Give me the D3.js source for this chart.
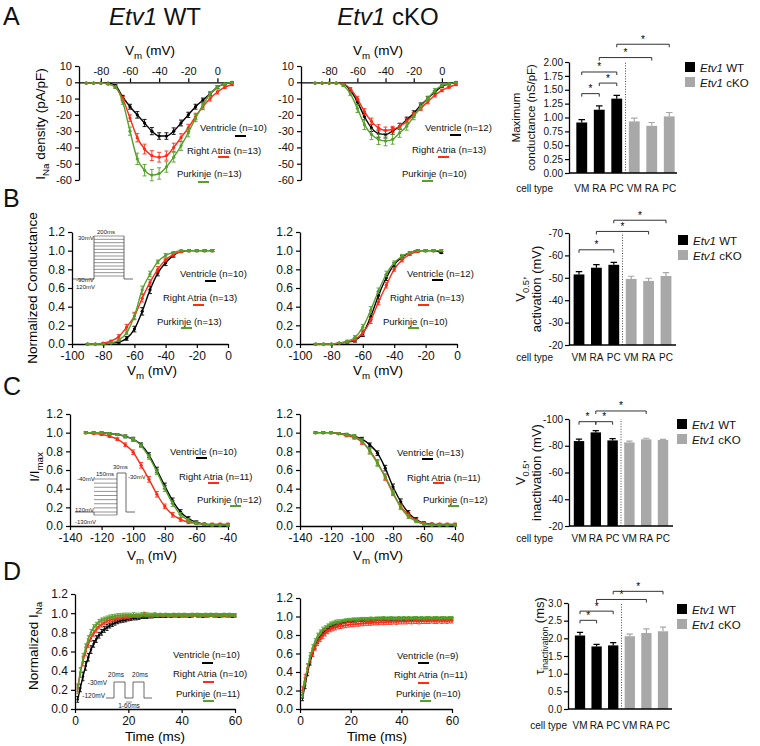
<!DOCTYPE html>
<html>
<head>
<meta charset="utf-8">
<title>Etv1 sodium current figure</title>
<script src="https://cdn.jsdelivr.net/npm/d3@7"></script>
<style>
  body { margin: 0; background: #fff; }
  svg { font-family: "Liberation Sans", Arial, Helvetica, sans-serif; display: block; }
</style>
</head>
<body>
<svg id="fig" width="760" height="746"></svg>
<script>
// ---------- values ----------
const cellTypes = ["VM", "RA", "PC", "VM", "RA", "PC"];

// A: I-V, current density (pA/pF)
const ivVoltage = [-90,-85,-80,-75,-70,-65,-60,-55,-50,-45,-40,-35,-30,-25,-20,-15,-10,-5,0,5,10];
const ivWtVent    = [-0.5,-0.5,-0.5,-0.5,-2,-9,-15,-20,-25,-30,-33,-33,-30,-25,-20,-15,-11,-7,-3,-1,0];
const ivWtVentErr = [0.2,0.2,0.2,0.3,0.5,1,1.5,2,2.2,2.2,2,2,2,1.8,1.6,1.5,1.3,1,0.8,0.5,0.3];
const ivWtRA      = [-0.5,-0.5,-0.5,-1,-3,-10,-22,-34,-41,-45,-46,-45,-40,-34,-28,-21,-15,-10,-6,-3,-1.5];
const ivWtRAErr   = [0.2,0.2,0.3,0.4,0.6,1.2,2,2.6,3,3,3,2.8,2.6,2.4,2.2,2,1.8,1.5,1.2,0.8,0.5];
const ivWtPC      = [-0.5,-0.5,-0.5,-1,-3,-12,-30,-47,-54,-57,-56,-52,-46,-39,-31,-22,-14,-7,-3,-1,0];
const ivWtPCErr   = [0.2,0.2,0.3,0.5,0.8,1.5,2.5,3.5,3.5,3.5,3.5,3.2,3,2.8,2.5,2.2,1.8,1.4,1,0.6,0.3];
const ivKoVent    = [-0.5,-0.5,-0.5,-0.5,-1,-5,-12,-21,-28,-31.5,-32,-30,-27,-23,-19,-14,-10,-6,-2.5,-1,0];
const ivKoVentErr = [0.2,0.2,0.2,0.3,0.4,0.8,1.5,2,2.2,2.2,2.2,2,1.8,1.6,1.5,1.3,1.1,0.9,0.7,0.5,0.3];
const ivKoRA      = [-0.5,-0.5,-0.5,-0.5,-1,-4,-10,-18,-24,-28,-29.5,-29,-27,-24,-20,-16,-12,-8,-5,-3,-1.5];
const ivKoRAErr   = [0.2,0.2,0.2,0.3,0.4,0.8,1.4,1.8,2,2,2,1.9,1.8,1.6,1.5,1.4,1.2,1,0.8,0.6,0.4];
const ivKoPC      = [-0.5,-0.5,-0.5,-0.5,-2,-7,-16,-26,-32,-35,-36,-35,-31,-27,-21,-15,-10,-5,-2,-1,0];
const ivKoPCErr   = [0.2,0.2,0.2,0.3,0.6,1.2,2.5,3,3.2,3.2,3,3,2.8,2.4,2,1.8,1.5,1.2,0.9,0.6,0.3];

// B: conductance-voltage
const gvVoltage = [-90,-85,-80,-75,-70,-65,-60,-55,-50,-45,-40,-35,-30,-25,-20,-15,-10];
const gvWtVent    = [0,0,0,0.01,0.02,0.06,0.16,0.35,0.58,0.76,0.87,0.95,0.99,1.0,1.0,1.0,1.0];
const gvWtVentErr = [0,0,0,0.005,0.01,0.02,0.03,0.04,0.04,0.03,0.03,0.02,0.01,0.01,0.01,0.01,0.01];
const gvWtRA      = [0,0,0.01,0.03,0.08,0.18,0.3,0.49,0.66,0.8,0.9,0.96,0.99,1.0,1.0,1.0,1.0];
const gvWtRAErr   = [0,0,0.005,0.01,0.02,0.03,0.04,0.04,0.03,0.03,0.02,0.02,0.01,0.01,0.01,0.01,0.01];
const gvWtPC      = [0,0,0,0.01,0.04,0.12,0.3,0.58,0.75,0.88,0.95,0.98,1.0,1.0,1.0,1.0,1.0];
const gvWtPCErr   = [0,0,0,0.005,0.01,0.02,0.03,0.04,0.03,0.02,0.02,0.01,0.01,0.01,0.01,0.01,0.01];
const gvKoVent    = [0,0,0,0.01,0.02,0.04,0.11,0.29,0.52,0.71,0.85,0.93,0.98,1.0,1.0,1.0,0.98];
const gvKoVentErr = [0,0,0,0.005,0.01,0.02,0.03,0.03,0.04,0.03,0.02,0.02,0.01,0.01,0.01,0.01,0.01];
const gvKoRA      = [0,0,0,0.01,0.02,0.05,0.12,0.25,0.45,0.63,0.8,0.9,0.96,0.99,1.0,1.0,1.0];
const gvKoRAErr   = [0,0,0,0.005,0.01,0.02,0.03,0.03,0.03,0.03,0.02,0.02,0.01,0.01,0.01,0.01,0.01];
const gvKoPC      = [0,0,0,0.01,0.03,0.07,0.18,0.36,0.57,0.75,0.87,0.94,0.98,1.0,1.0,1.0,1.0];
const gvKoPCErr   = [0,0,0,0.005,0.01,0.02,0.03,0.04,0.03,0.03,0.02,0.02,0.01,0.01,0.01,0.01,0.01];

// C: steady-state inactivation
const ssiVoltage = [-130,-125,-120,-115,-110,-105,-100,-95,-90,-85,-80,-75,-70,-65,-60,-55,-50,-45,-40];
const ssiWtVent = [1.0,1.0,1.0,0.99,0.98,0.96,0.93,0.87,0.76,0.6,0.43,0.27,0.15,0.08,0.04,0.02,0.01,0.01,0.01];
const ssiWtRA   = [1.0,0.99,0.98,0.96,0.93,0.87,0.79,0.65,0.5,0.34,0.21,0.12,0.07,0.04,0.03,0.02,0.02,0.02,0.02];
const ssiWtPC   = [1.0,1.0,1.0,0.99,0.98,0.96,0.93,0.86,0.74,0.58,0.4,0.24,0.12,0.06,0.03,0.02,0.01,0.01,0.01];
const ssiKoVent = [1.0,1.0,1.0,0.99,0.98,0.96,0.93,0.87,0.78,0.62,0.42,0.26,0.14,0.07,0.03,0.02,0.01,0.01,0.01];
const ssiKoRA   = [1.0,1.0,1.0,0.99,0.97,0.95,0.9,0.81,0.68,0.52,0.35,0.21,0.12,0.06,0.03,0.02,0.02,0.02,0.02];
const ssiKoPC   = [1.0,1.0,1.0,0.99,0.98,0.96,0.91,0.8,0.67,0.53,0.36,0.2,0.1,0.05,0.02,0.01,0.01,0.01,0.01];
const ssiErrA   = [0.01,0.01,0.01,0.01,0.01,0.015,0.02,0.02,0.025,0.03,0.03,0.03,0.025,0.02,0.015,0.01,0.01,0.01,0.01];
const ssiErrB   = [0.005,0.005,0.01,0.01,0.015,0.02,0.025,0.03,0.03,0.03,0.025,0.025,0.02,0.015,0.01,0.01,0.01,0.01,0.01];

// D: recovery from inactivation (interval, ms)
const recTime = [1,2,3,4,5,6,7,8,9,10,11,12,13,14,15,16,17,18,19,20,
  21,22,23,24,25,26,27,28,29,30,31,32,33,34,35,36,37,38,39,40,
  41,42,43,44,45,46,47,48,49,50,51,52,53,54,55,56,57,58,59,60];
const recWtVent = [0.10,0.22,0.34,0.45,0.54,0.62,0.68,0.73,0.77,0.80,0.83,0.85,0.87,0.885,0.90,0.91,0.92,0.925,0.93,0.94,
  0.945,0.95,0.95,0.955,0.96,0.96,0.96,0.965,0.965,0.97,0.97,0.97,0.97,0.97,0.975,0.97,0.975,0.975,0.97,0.975,
  0.975,0.975,0.97,0.975,0.98,0.975,0.975,0.97,0.975,0.975,0.98,0.975,0.975,0.97,0.975,0.98,0.975,0.975,0.97,0.975];
const recWtVentErr = [0.03,0.04,0.045,0.045,0.04,0.04,0.035,0.035,0.03,0.03,0.03,0.03,0.025,0.025,0.025,0.02,0.02,0.02,0.02,0.02,
  0.02,0.02,0.02,0.02,0.015,0.015,0.015,0.015,0.015,0.015,0.015,0.015,0.015,0.015,0.015,0.015,0.015,0.015,0.015,0.015,
  0.015,0.015,0.015,0.015,0.015,0.015,0.015,0.015,0.015,0.015,0.015,0.015,0.015,0.015,0.015,0.015,0.015,0.015,0.015,0.015];
const recWtRA = [0.22,0.38,0.50,0.60,0.68,0.74,0.79,0.83,0.86,0.88,0.90,0.915,0.925,0.935,0.94,0.95,0.955,0.96,0.96,0.965,
  0.965,0.97,0.97,0.97,0.975,0.995,0.975,0.975,0.975,0.98,0.975,0.98,0.975,0.98,0.98,0.975,0.98,0.98,0.975,0.98,
  0.98,0.975,0.98,0.98,0.98,0.975,0.98,0.98,0.975,0.98,0.98,0.98,0.975,0.98,0.98,0.975,0.98,0.98,0.98,0.975];
const recWtRAErr = [0.04,0.05,0.05,0.045,0.04,0.035,0.03,0.03,0.025,0.025,0.02,0.02,0.02,0.02,0.02,0.02,0.02,0.02,0.02,0.02,
  0.015,0.015,0.015,0.015,0.015,0.015,0.015,0.015,0.015,0.015,0.015,0.015,0.015,0.015,0.015,0.015,0.015,0.015,0.015,0.015,
  0.015,0.015,0.015,0.015,0.015,0.015,0.015,0.015,0.015,0.015,0.015,0.015,0.015,0.015,0.015,0.015,0.015,0.015,0.015,0.015];
const recWtPC = [0.20,0.38,0.53,0.64,0.73,0.80,0.85,0.88,0.91,0.93,0.94,0.95,0.96,0.965,0.97,0.975,0.975,0.98,0.98,0.98,
  0.98,0.985,0.98,0.98,0.985,0.98,0.985,0.98,0.98,0.985,0.98,0.985,0.98,0.985,0.98,0.98,0.985,0.98,0.985,0.98,
  0.985,0.98,0.98,0.985,0.98,0.985,0.98,0.98,0.985,0.98,0.985,0.98,0.985,0.98,0.98,0.985,0.98,0.985,0.98,0.98];
const recWtPCErr = [0.04,0.05,0.05,0.04,0.035,0.03,0.03,0.025,0.025,0.02,0.02,0.02,0.02,0.02,0.02,0.02,0.02,0.02,0.02,0.02,
  0.02,0.02,0.02,0.02,0.02,0.02,0.02,0.02,0.02,0.02,0.015,0.015,0.015,0.015,0.015,0.015,0.015,0.015,0.015,0.015,
  0.015,0.015,0.015,0.015,0.015,0.015,0.015,0.015,0.015,0.015,0.015,0.015,0.015,0.015,0.015,0.015,0.015,0.015,0.015,0.015];
const recKoVent = [0.12,0.26,0.40,0.51,0.60,0.68,0.74,0.78,0.82,0.85,0.87,0.89,0.90,0.915,0.925,0.93,0.94,0.945,0.95,0.95,
  0.955,0.955,0.96,0.96,0.96,0.965,0.965,0.965,0.965,0.97,0.97,0.975,0.97,0.97,0.975,0.97,0.975,0.97,0.975,0.975,
  0.97,0.975,0.975,0.97,0.975,0.975,0.975,0.97,0.975,0.975,0.975,0.97,0.975,0.975,0.975,0.975,0.97,0.975,0.975,0.975];
const recKoVentErr = [0.03,0.04,0.04,0.035,0.03,0.03,0.03,0.025,0.025,0.02,0.02,0.02,0.02,0.02,0.02,0.015,0.015,0.015,0.015,0.015,
  0.015,0.015,0.015,0.015,0.015,0.015,0.015,0.015,0.015,0.015,0.015,0.015,0.015,0.015,0.015,0.015,0.015,0.015,0.015,0.015,
  0.015,0.015,0.015,0.015,0.015,0.015,0.015,0.015,0.015,0.015,0.015,0.015,0.015,0.015,0.015,0.015,0.015,0.015,0.015,0.015];
const recKoRA = [0.20,0.33,0.44,0.54,0.61,0.67,0.72,0.76,0.79,0.82,0.84,0.86,0.87,0.88,0.89,0.895,0.90,0.905,0.91,0.915,
  0.915,0.92,0.92,0.925,0.925,0.93,0.93,0.93,0.935,0.935,0.935,0.94,0.935,0.94,0.94,0.94,0.945,0.94,0.945,0.945,
  0.945,0.945,0.95,0.945,0.95,0.95,0.945,0.95,0.95,0.95,0.95,0.955,0.95,0.95,0.955,0.95,0.955,0.95,0.955,0.955];
const recKoRAErr = [0.04,0.045,0.045,0.04,0.04,0.035,0.035,0.03,0.03,0.03,0.025,0.025,0.025,0.025,0.025,0.025,0.025,0.025,0.025,0.025,
  0.025,0.025,0.025,0.025,0.025,0.025,0.025,0.025,0.025,0.025,0.025,0.025,0.025,0.025,0.025,0.025,0.025,0.025,0.025,0.025,
  0.025,0.025,0.025,0.025,0.025,0.025,0.025,0.025,0.025,0.025,0.025,0.025,0.025,0.025,0.025,0.025,0.025,0.025,0.025,0.025];
const recKoPC = [0.15,0.30,0.45,0.57,0.66,0.73,0.79,0.83,0.86,0.88,0.90,0.92,0.93,0.94,0.945,0.95,0.955,0.96,0.965,0.965,
  0.97,0.97,0.97,0.975,0.975,0.975,0.975,0.98,0.975,0.98,0.98,0.98,0.985,0.98,0.98,0.985,0.98,0.98,0.985,0.98,
  0.985,0.98,0.985,0.98,0.985,0.985,0.98,0.985,0.98,0.985,0.985,0.98,0.985,0.985,0.98,0.985,0.985,0.98,0.985,0.985];
const recKoPCErr = [0.03,0.04,0.04,0.04,0.035,0.03,0.03,0.025,0.025,0.02,0.02,0.02,0.02,0.02,0.02,0.015,0.015,0.015,0.015,0.015,
  0.015,0.015,0.015,0.015,0.015,0.015,0.015,0.015,0.015,0.015,0.015,0.015,0.015,0.015,0.015,0.015,0.015,0.015,0.015,0.015,
  0.015,0.015,0.015,0.015,0.015,0.015,0.015,0.015,0.015,0.015,0.015,0.015,0.015,0.015,0.015,0.015,0.015,0.015,0.015,0.015];

// summary bars (WT VM RA PC, cKO VM RA PC)
const gMax = [0.91, 1.14, 1.34, 0.93, 0.85, 1.02];
const gMaxErr = [0.05, 0.07, 0.06, 0.06, 0.06, 0.07];
const gMaxSig = [[0, 1, 1.43], [1, 2, 1.62], [0, 2, 1.82], [1, 4, 2.08], [2, 5, 2.32]];
const vHalfAct = [-51.5, -54.5, -55.8, -49.5, -48.6, -50.8];
const vHalfActErr = [1.3, 1.4, 1.1, 1.2, 1.2, 1.5];
const vHalfActSig = [[0, 2, -62.5], [1, 4, -70.7], [2, 5, -75.7]];
const vHalfInact = [-83.5, -90, -84, -82.5, -84.8, -84.3];
const vHalfInactErr = [1.5, 1.3, 1.3, 0.9, 0.8, 0.5];
const vHalfInactSig = [[0, 1, -98], [1, 2, -98], [1, 4, -106]];
const tauInact = [2.08, 1.77, 1.8, 2.06, 2.15, 2.2];
const tauInactErr = [0.09, 0.06, 0.08, 0.06, 0.12, 0.12];
const tauInactSig = [[0, 1, 2.51], [0, 2, 2.77], [1, 4, 3.1], [2, 5, 3.33]];

// voltage-clamp protocol insets
const actSteps = [-90, -80, -70, -60, -50, -40, -30, -20, -10, 0, 10, 20, 30];
const inactSteps = [-130, -120, -110, -100, -90, -80, -70, -60, -50, -40];

// ---------- drawing ----------
const BLACK = "#000000", RED = "#ff2b16", GREEN = "#55a12a", GRAY = "#a8a8a8";
const svg = d3.select("#fig");

function styleAxis(a, size) {
  a.attr("font-family", null).attr("font-size", size);
  a.select(".domain").attr("stroke-width", 1.3);
  a.selectAll(".tick line").attr("stroke-width", 1.2);
  a.selectAll(".tick text").attr("fill", "#111");
}

// text with subscript / italic parts
function richText(parent, parts, size, subScale = 0.72) {
  const t = parent.append("text").attr("font-size", size);
  let shift = 0;
  parts.forEach(pt => {
    const ts = t.append("tspan").text(pt.t);
    if (pt.sub) {
      ts.attr("font-size", size * subScale).attr("dy", size * 0.3 - shift);
      shift = size * 0.3;
    } else if (shift) {
      ts.attr("dy", -shift);
      shift = 0;
    }
    if (pt.it) ts.attr("font-style", "italic");
  });
  return t;
}

function linePanel(p) {
  const x = d3.scaleLinear().domain(p.xDomain).range(p.xRange);
  const y = d3.scaleLinear().domain(p.yDomain).range(p.yRange);
  const g = svg.append("g");

  const xAxis = (p.xTop ? d3.axisTop(x) : d3.axisBottom(x))
    .tickValues(p.xTicks).tickSize(4).tickSizeOuter(0).tickPadding(3)
    .tickFormat(d => String(d));
  const yAxis = d3.axisLeft(y)
    .tickValues(p.yTicks).tickSize(4).tickSizeOuter(0).tickPadding(3)
    .tickFormat(p.yFormat);

  const xg = g.append("g")
    .attr("transform", `translate(0,${p.xTop ? y(0) : p.yRange[0]})`)
    .call(xAxis);
  const yg = g.append("g")
    .attr("transform", `translate(${p.xRange[0]},0)`)
    .call(yAxis);
  styleAxis(xg, p.tickFont);
  styleAxis(yg, p.tickFont);

  const line = d3.line().x(d => x(d.x)).y(d => y(d.y)).curve(d3.curveMonotoneX);

  p.series.forEach(s => {
    const pts = p.xs.map((v, i) => ({ x: v, y: s.values[i], e: s.errors[i] }));
    const sg = g.append("g");
    sg.selectAll(".eb").data(pts).join("path").attr("class", "eb")
      .attr("fill", "none").attr("stroke", s.color).attr("stroke-width", 0.9)
      .attr("d", d => {
        const cx = x(d.x), y1 = y(d.y - d.e), y2 = y(d.y + d.e), c = p.cap;
        return `M${cx},${y1}V${y2}M${cx - c},${y1}h${2 * c}M${cx - c},${y2}h${2 * c}`;
      });
    sg.selectAll(".pt").data(pts).join("circle").attr("class", "pt")
      .attr("cx", d => x(d.x)).attr("cy", d => y(d.y)).attr("r", p.r)
      .attr("fill", s.color);
    sg.append("path").datum(pts)
      .attr("fill", "none").attr("stroke", s.color).attr("stroke-width", 1.4)
      .attr("d", line);
  });

  p.legend.forEach((l, i) => {
    g.append("text").attr("x", l.tx).attr("y", l.ty).attr("font-size", 9.5)
      .attr("fill", "#111").text(l.label);
    g.append("line").attr("x1", l.lx).attr("x2", l.lx + 11)
      .attr("y1", l.ly).attr("y2", l.ly)
      .attr("stroke", p.series[i].color).attr("stroke-width", 2);
  });

  if (p.xLabel) {
    richText(g, p.xLabel.parts, 13.5)
      .attr("x", p.xLabel.x).attr("y", p.xLabel.y).attr("text-anchor", "middle");
  }
  if (p.yLabel) {
    richText(g, p.yLabel.parts, 13.5)
      .attr("text-anchor", "middle")
      .attr("transform", `translate(${p.yLabel.x},${p.yLabel.y}) rotate(-90)`);
  }
  return { x, y, g };
}

function barPanel(p) {
  const x = d3.scaleBand().domain(d3.range(cellTypes.length)).range(p.bandRange)
    .paddingInner(0.38).paddingOuter(0.19);
  const y = d3.scaleLinear().domain(p.yDomain).range(p.yRange);
  const g = svg.append("g");
  const base = p.yDomain[0];
  const bw = x.bandwidth();
  const cx = i => x(i) + bw / 2;

  const rows = p.values.map((v, i) => ({ i, v, e: p.errors[i], color: i < 3 ? BLACK : GRAY }));

  // error bars (upward only)
  g.selectAll(".eb").data(rows).join("path").attr("class", "eb")
    .attr("fill", "none").attr("stroke", d => d.color).attr("stroke-width", 1.2)
    .attr("d", d => {
      const top = y(d.v), ey = Math.abs(y(d.v + d.e) - y(d.v)), c = bw * 0.3;
      return `M${cx(d.i)},${top}V${top - ey}M${cx(d.i) - c},${top - ey}h${2 * c}`;
    });
  g.selectAll(".bar").data(rows).join("rect").attr("class", "bar")
    .attr("x", d => x(d.i)).attr("width", bw)
    .attr("y", d => Math.min(y(base), y(d.v)))
    .attr("height", d => Math.abs(y(base) - y(d.v)))
    .attr("fill", d => d.color);

  // dotted separator between genotypes
  const sepX = (cx(2) + cx(3)) / 2;
  g.append("line").attr("x1", sepX).attr("x2", sepX)
    .attr("y1", y(base)).attr("y2", p.yRange[1])
    .attr("stroke", "#333").attr("stroke-width", 0.9).attr("stroke-dasharray", "1,1.6");

  // axes
  const yAxis = d3.axisLeft(y).tickValues(p.yTicks).tickSize(4).tickSizeOuter(0)
    .tickPadding(2).tickFormat(p.yFormat);
  const yg = g.append("g").attr("transform", `translate(${p.axisX},0)`).call(yAxis);
  styleAxis(yg, 10);
  g.append("line").attr("x1", p.axisX).attr("x2", p.axisEnd)
    .attr("y1", y(base)).attr("y2", y(base))
    .attr("stroke", "#000").attr("stroke-width", 1.3);

  // significance brackets
  p.sig.forEach(([a, b, lv]) => {
    const yy = y(lv);
    g.append("path").attr("fill", "none").attr("stroke", "#333").attr("stroke-width", 1)
      .attr("d", `M${cx(a)},${yy + 3}V${yy}H${cx(b)}V${yy + 3}`);
    g.append("text").attr("x", (cx(a) + cx(b)) / 2).attr("y", yy - 1.5)
      .attr("text-anchor", "middle").attr("font-size", 10).attr("fill", "#000").text("*");
  });

  // category labels
  if (p.catY) {
    g.append("text").attr("x", p.catLabelX).attr("y", p.catY).attr("text-anchor", "end")
      .attr("font-size", 10).attr("fill", "#111").text("cell type");
    g.selectAll(".cat").data(cellTypes).join("text").attr("class", "cat")
      .attr("x", (d, i) => cx(i)).attr("y", p.catY).attr("text-anchor", "middle")
      .attr("font-size", 10).attr("fill", "#111").text(d => d);
  }

  // legend
  [["WT", BLACK], ["cKO", GRAY]].forEach(([lab, col], k) => {
    const ly = p.legendY + k * 15;
    g.append("rect").attr("x", p.legendX).attr("y", ly).attr("width", 10).attr("height", 10)
      .attr("fill", col);
    richText(g, [{ t: "Etv1", it: true }, { t: " " + lab }], 11.5)
      .attr("x", p.legendX + 15).attr("y", ly + 9.5).attr("fill", "#111");
  });

  // y label lines
  p.yLabel.forEach(l => {
    const cy = l.cy !== undefined ? l.cy : (p.yRange[0] + p.yRange[1]) / 2;
    richText(g, l.parts, l.size, l.subScale).attr("text-anchor", "middle").attr("fill", "#111")
      .attr("transform", `translate(${l.x},${cy}) rotate(-90)`);
  });
}

// ---------- panel letters and titles ----------
[["A", 25], ["B", 207], ["C", 395], ["D", 580]].forEach(([t, yy]) => {
  svg.append("text").attr("x", 3).attr("y", yy).attr("font-size", 25).attr("fill", "#111").text(t);
});
richText(svg, [{ t: "Etv1", it: true }, { t: " WT" }], 24)
  .attr("x", 155).attr("y", 25).attr("text-anchor", "middle").attr("fill", "#111");
richText(svg, [{ t: "Etv1", it: true }, { t: " cKO" }], 24)
  .attr("x", 388).attr("y", 25).attr("text-anchor", "middle").attr("fill", "#111");

const vmLabel = [{ t: "V" }, { t: "m", sub: true }, { t: " (mV)" }];
const intFmt = d => String(d);
const dec1 = d => d.toFixed(1);
const unitTicks = [0, 0.2, 0.4, 0.6, 0.8, 1.0, 1.2];

// ---------- row A ----------
linePanel({
  xs: ivVoltage, xDomain: [-95, 10], xRange: [79, 232], yDomain: [-60, 10], yRange: [180, 66],
  xTop: true, xTicks: [-80, -60, -40, -20, 0], yTicks: [-60, -50, -40, -30, -20, -10, 0, 10],
  yFormat: intFmt, tickFont: 11, cap: 2, r: 1.6,
  series: [
    { values: ivWtVent, errors: ivWtVentErr, color: BLACK },
    { values: ivWtRA, errors: ivWtRAErr, color: RED },
    { values: ivWtPC, errors: ivWtPCErr, color: GREEN }
  ],
  legend: [
    { label: "Ventricle (n=10)", tx: 200, ty: 131, lx: 235, ly: 136 },
    { label: "Right Atria (n=13)", tx: 187, ty: 154, lx: 218, ly: 157 },
    { label: "Purkinje (n=13)", tx: 177, ty: 177, lx: 198, ly: 182 }
  ],
  xLabel: { parts: vmLabel, x: 150, y: 55 },
  yLabel: { parts: [{ t: "I" }, { t: "Na", sub: true }, { t: " density (pA/pF)" }], x: 45, y: 124 }
});
linePanel({
  xs: ivVoltage, xDomain: [-100, 10], xRange: [301, 456], yDomain: [-60, 10], yRange: [180, 66],
  xTop: true, xTicks: [-80, -60, -40, -20, 0], yTicks: [-60, -50, -40, -30, -20, -10, 0, 10],
  yFormat: intFmt, tickFont: 11, cap: 2, r: 1.6,
  series: [
    { values: ivKoVent, errors: ivKoVentErr, color: BLACK },
    { values: ivKoRA, errors: ivKoRAErr, color: RED },
    { values: ivKoPC, errors: ivKoPCErr, color: GREEN }
  ],
  legend: [
    { label: "Ventricle (n=12)", tx: 425, ty: 131, lx: 450, ly: 135 },
    { label: "Right Atria (n=13)", tx: 412, ty: 153, lx: 438, ly: 157 },
    { label: "Purkinje (n=10)", tx: 402, ty: 177, lx: 422, ly: 181 }
  ],
  xLabel: { parts: vmLabel, x: 378, y: 55 }
});
barPanel({
  values: gMax, errors: gMaxErr, sig: gMaxSig,
  yDomain: [0, 2], yRange: [173, 62], yTicks: [0, 0.25, 0.5, 0.75, 1, 1.25, 1.5, 1.75, 2],
  yFormat: d => d.toFixed(2),
  axisX: 569, axisEnd: 677, bandRange: [573, 678],
  catY: 192, catLabelX: 553, legendX: 685, legendY: 62,
  yLabel: [
    { parts: [{ t: "Maximum" }], size: 11.5, x: 520 },
    { parts: [{ t: "conductance (nS/pF)" }], size: 11.5, x: 535 }
  ]
});

// ---------- row B ----------
linePanel({
  xs: gvVoltage, xDomain: [-100, 0], xRange: [72, 228], yDomain: [0, 1.2], yRange: [344, 232],
  xTicks: [-100, -80, -60, -40, -20, 0], yTicks: unitTicks, yFormat: dec1, tickFont: 12, cap: 2, r: 1.6,
  series: [
    { values: gvWtVent, errors: gvWtVentErr, color: BLACK },
    { values: gvWtRA, errors: gvWtRAErr, color: RED },
    { values: gvWtPC, errors: gvWtPCErr, color: GREEN }
  ],
  legend: [
    { label: "Ventricle (n=10)", tx: 180, ty: 277, lx: 205, ly: 281 },
    { label: "Right Atria (n=13)", tx: 163, ty: 301, lx: 193, ly: 305 },
    { label: "Purkinje (n=13)", tx: 157, ty: 325, lx: 181, ly: 328 }
  ],
  xLabel: { parts: vmLabel, x: 152, y: 375 },
  yLabel: { parts: [{ t: "Normalized Conductance" }], x: 37, y: 288 }
});
linePanel({
  xs: gvVoltage, xDomain: [-100, 0], xRange: [300, 457], yDomain: [0, 1.2], yRange: [344, 232],
  xTicks: [-100, -80, -60, -40, -20, 0], yTicks: unitTicks, yFormat: dec1, tickFont: 12, cap: 2, r: 1.6,
  series: [
    { values: gvKoVent, errors: gvKoVentErr, color: BLACK },
    { values: gvKoRA, errors: gvKoRAErr, color: RED },
    { values: gvKoPC, errors: gvKoPCErr, color: GREEN }
  ],
  legend: [
    { label: "Ventricle (n=12)", tx: 407, ty: 277, lx: 432, ly: 280 },
    { label: "Right Atria (n=13)", tx: 390, ty: 301, lx: 418, ly: 305 },
    { label: "Purkinje (n=10)", tx: 383, ty: 325, lx: 408, ly: 328 }
  ],
  xLabel: { parts: vmLabel, x: 378, y: 375 }
});
barPanel({
  values: vHalfAct, errors: vHalfActErr, sig: vHalfActSig,
  yDomain: [-20, -70], yRange: [345, 233], yTicks: [-70, -60, -50, -40, -30, -20], yFormat: intFmt,
  axisX: 569, axisEnd: 676, bandRange: [570.3, 674.7],
  catY: 361, catLabelX: 553, legendX: 678, legendY: 235,
  yLabel: [
    { parts: [{ t: "V" }, { t: "0.5", sub: true }, { t: "," }], size: 13, x: 525 },
    { parts: [{ t: "activation (mV)" }], size: 13, x: 541 }
  ]
});

// activation protocol inset
(function () {
  const ix = d3.scaleLinear().domain([0, 100, 300, 360]).range([73, 94, 124, 133]);
  const iy = d3.scaleLinear().domain([-120, -90, 30]).range([279, 276, 236]);
  const g = svg.append("g").attr("fill", "none");
  g.selectAll(".st").data(actSteps).join("line").attr("class", "st")
    .attr("x1", ix(100)).attr("x2", ix(300)).attr("y1", d => iy(d)).attr("y2", d => iy(d))
    .attr("stroke", "#666").attr("stroke-width", 0.7);
  g.append("path").attr("stroke", "#444").attr("stroke-width", 0.8)
    .attr("d", `M${ix(0)},${iy(-120)}H${ix(100)}V${iy(30)}M${ix(300)},${iy(30)}V${iy(-120)}H${ix(360)}`);
  const lab = [["30mV", 78, 240], ["200ms", 97, 234], ["-90mV", 76, 282], ["120mV", 76, 289]];
  lab.forEach(([t, xx, yy]) => svg.append("text").attr("x", xx).attr("y", yy)
    .attr("font-size", 6).attr("fill", "#222").text(t));
})();

// ---------- row C ----------
linePanel({
  xs: ssiVoltage, xDomain: [-140, -40], xRange: [70, 228], yDomain: [0, 1.2], yRange: [526, 414],
  xTicks: [-140, -120, -100, -80, -60, -40], yTicks: unitTicks, yFormat: dec1, tickFont: 12, cap: 2, r: 1.6,
  series: [
    { values: ssiWtVent, errors: ssiErrA, color: BLACK },
    { values: ssiWtRA, errors: ssiErrB, color: RED },
    { values: ssiWtPC, errors: ssiErrA, color: GREEN }
  ],
  legend: [
    { label: "Ventricle (n=10)", tx: 170, ty: 455, lx: 196, ly: 458 },
    { label: "Right Atria (n=11)", tx: 179, ty: 480, lx: 208, ly: 483 },
    { label: "Purkinje (n=12)", tx: 197, ty: 503, lx: 230, ly: 506 }
  ],
  xLabel: { parts: vmLabel, x: 152, y: 560 },
  yLabel: { parts: [{ t: "I/I" }, { t: "max", sub: true }], x: 39, y: 467 }
});
linePanel({
  xs: ssiVoltage, xDomain: [-140, -40], xRange: [300, 455], yDomain: [0, 1.2], yRange: [526, 414],
  xTicks: [-140, -120, -100, -80, -60, -40], yTicks: unitTicks, yFormat: dec1, tickFont: 12, cap: 2, r: 1.6,
  series: [
    { values: ssiKoVent, errors: ssiErrA, color: BLACK },
    { values: ssiKoRA, errors: ssiErrB, color: RED },
    { values: ssiKoPC, errors: ssiErrB, color: GREEN }
  ],
  legend: [
    { label: "Ventricle (n=13)", tx: 397, ty: 456, lx: 422, ly: 459 },
    { label: "Right Atria (n=11)", tx: 407, ty: 481, lx: 433, ly: 483 },
    { label: "Purkinje (n=12)", tx: 423, ty: 503, lx: 448, ly: 506 }
  ],
  xLabel: { parts: vmLabel, x: 378, y: 560 }
});
barPanel({
  values: vHalfInact, errors: vHalfInactErr, sig: vHalfInactSig,
  yDomain: [-20, -100], yRange: [526, 419], yTicks: [-100, -80, -60, -40, -20], yFormat: intFmt,
  axisX: 569, axisEnd: 673, bandRange: [570.6, 671.4],
  catY: 542, catLabelX: 553, legendX: 677, legendY: 419,
  yLabel: [
    { parts: [{ t: "V" }, { t: "0.5", sub: true }, { t: "," }], size: 13, x: 525 },
    { parts: [{ t: "inactivation (mV)" }], size: 13, x: 541 }
  ]
});

// inactivation protocol inset
(function () {
  const ix = d3.scaleLinear().domain([0, 100, 250, 280, 330]).range([75, 94, 117, 126, 135]);
  const iy = d3.scaleLinear().domain([-130, -120, -40, -30]).range([515, 512, 479, 473]);
  const g = svg.append("g").attr("fill", "none");
  g.selectAll(".st").data(inactSteps).join("line").attr("class", "st")
    .attr("x1", ix(100)).attr("x2", ix(250)).attr("y1", d => iy(d)).attr("y2", d => iy(d))
    .attr("stroke", "#666").attr("stroke-width", 0.7);
  g.append("path").attr("stroke", "#444").attr("stroke-width", 0.8)
    .attr("d", `M${ix(0)},${iy(-120)}H${ix(100)}V${iy(-130)}` +
      `M${ix(250)},${iy(-130)}V${iy(-30)}H${ix(280)}V${iy(-120)}H${ix(330)}`);
  const lab = [["-40mV", 77, 481], ["150ms", 96, 476], ["30ms", 113, 469],
    ["-30mV", 128, 479], ["120mV", 75, 512], ["-130mV", 75, 524]];
  lab.forEach(([t, xx, yy]) => svg.append("text").attr("x", xx).attr("y", yy)
    .attr("font-size", 6).attr("fill", "#222").text(t));
})();

// ---------- row D ----------
linePanel({
  xs: recTime, xDomain: [0, 60], xRange: [75, 235], yDomain: [0, 1.2], yRange: [709, 594],
  xTicks: [0, 20, 40, 60], yTicks: unitTicks, yFormat: dec1, tickFont: 12, cap: 1.5, r: 1.2,
  series: [
    { values: recWtVent, errors: recWtVentErr, color: BLACK },
    { values: recWtRA, errors: recWtRAErr, color: RED },
    { values: recWtPC, errors: recWtPCErr, color: GREEN }
  ],
  legend: [
    { label: "Ventricle (n=10)", tx: 173, ty: 658, lx: 202, ly: 663 },
    { label: "Right Atria (n=10)", tx: 173, ty: 677, lx: 203, ly: 682 },
    { label: "Purkinje (n=11)", tx: 176, ty: 697, lx: 203, ly: 701 }
  ],
  xLabel: { parts: [{ t: "Time (ms)" }], x: 155, y: 741 },
  yLabel: { parts: [{ t: "Normalized I" }, { t: "Na", sub: true }], x: 38, y: 646 }
});
linePanel({
  xs: recTime, xDomain: [0, 60], xRange: [300, 452], yDomain: [0, 1.2], yRange: [709, 598],
  xTicks: [0, 20, 40, 60], yTicks: unitTicks, yFormat: dec1, tickFont: 12, cap: 1.5, r: 1.2,
  series: [
    { values: recKoVent, errors: recKoVentErr, color: BLACK },
    { values: recKoRA, errors: recKoRAErr, color: RED },
    { values: recKoPC, errors: recKoPCErr, color: GREEN }
  ],
  legend: [
    { label: "Ventricle (n=9)", tx: 397, ty: 659, lx: 418, ly: 663 },
    { label: "Right Atria (n=11)", tx: 394, ty: 678, lx: 418, ly: 683 },
    { label: "Purkinje (n=10)", tx: 396, ty: 697, lx: 420, ly: 701 }
  ],
  xLabel: { parts: [{ t: "Time (ms)" }], x: 377, y: 741 }
});
barPanel({
  values: tauInact, errors: tauInactErr, sig: tauInactSig,
  yDomain: [0, 3], yRange: [709, 603], yTicks: [0, 0.5, 1, 1.5, 2, 2.5, 3], yFormat: dec1,
  axisX: 568, axisEnd: 672, bandRange: [571.7, 671.3],
  catY: 729, catLabelX: 567, legendX: 677, legendY: 604,
  yLabel: [
    { parts: [{ t: "τ" }, { t: "inactivation", sub: true }, { t: " (ms)" }], size: 13, x: 544, cy: 636, subScale: 0.66 }
  ]
});

// recovery protocol inset
(function () {
  const ix = d3.scaleLinear().domain([0, 20, 40, 50, 70, 90]).range([106, 114, 125, 133, 144, 152]);
  const iy = d3.scaleLinear().domain([-120, -30]).range([698, 682]);
  svg.append("path").attr("fill", "none").attr("stroke", "#444").attr("stroke-width", 0.8)
    .attr("d", `M${ix(0)},${iy(-120)}H${ix(20)}V${iy(-30)}H${ix(40)}V${iy(-120)}H${ix(50)}` +
      `V${iy(-30)}H${ix(70)}V${iy(-120)}H${ix(90)}`);
  svg.append("path").attr("fill", "none").attr("stroke", "#444").attr("stroke-width", 0.6)
    .attr("d", `M${ix(40) + 1},${iy(-120) + 4}H${ix(50) - 1}`);
  const lab = [["20ms", 116, 677, "middle"], ["20ms", 140, 677, "middle"],
    ["-30mV", 107, 685, "end"], ["-120mV", 105, 698, "end"], ["1-60ms", 129, 708, "middle"]];
  lab.forEach(([t, xx, yy, an]) => svg.append("text").attr("x", xx).attr("y", yy)
    .attr("text-anchor", an).attr("font-size", 6.5).attr("fill", "#222").text(t));
})();
</script>
</body>
</html>
